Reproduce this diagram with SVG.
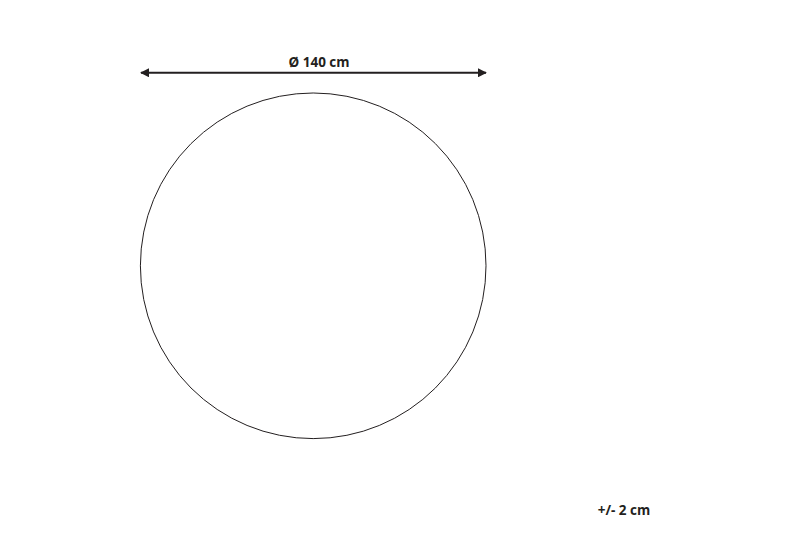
<svg xmlns="http://www.w3.org/2000/svg" width="800" height="533" viewBox="0 0 800 533">
<style>
.lbl{font-family:"Open Sans","Liberation Sans",sans-serif;font-weight:bold;font-size:13.5px;fill:#231f20}
</style>
<defs>
<marker id="ah" viewBox="0 0 10 10" refX="9" refY="5" markerWidth="4.5" markerHeight="4.5" orient="auto-start-reverse" markerUnits="strokeWidth">
<path d="M0,0 L10,5 L0,10 Z" fill="#231f20"/>
</marker>
</defs>
<rect width="800" height="533" fill="#ffffff"/>
<g id="connectors">
<line x1="141" y1="72.8" x2="486" y2="72.8" stroke="#231f20" stroke-width="2" marker-start="url(#ah)" marker-end="url(#ah)"/>
</g>
<g id="rug">
<circle cx="313.2" cy="265.8" r="172.8" fill="none" stroke="#231f20" stroke-width="1"/>
</g>
<g id="dim-label">
<text class="lbl" x="319" y="67" text-anchor="middle">Ø 140 cm</text>
</g>
<g id="tolerance">
<text class="lbl" x="624" y="515" text-anchor="middle">+/- 2 cm</text>
</g>
</svg>
